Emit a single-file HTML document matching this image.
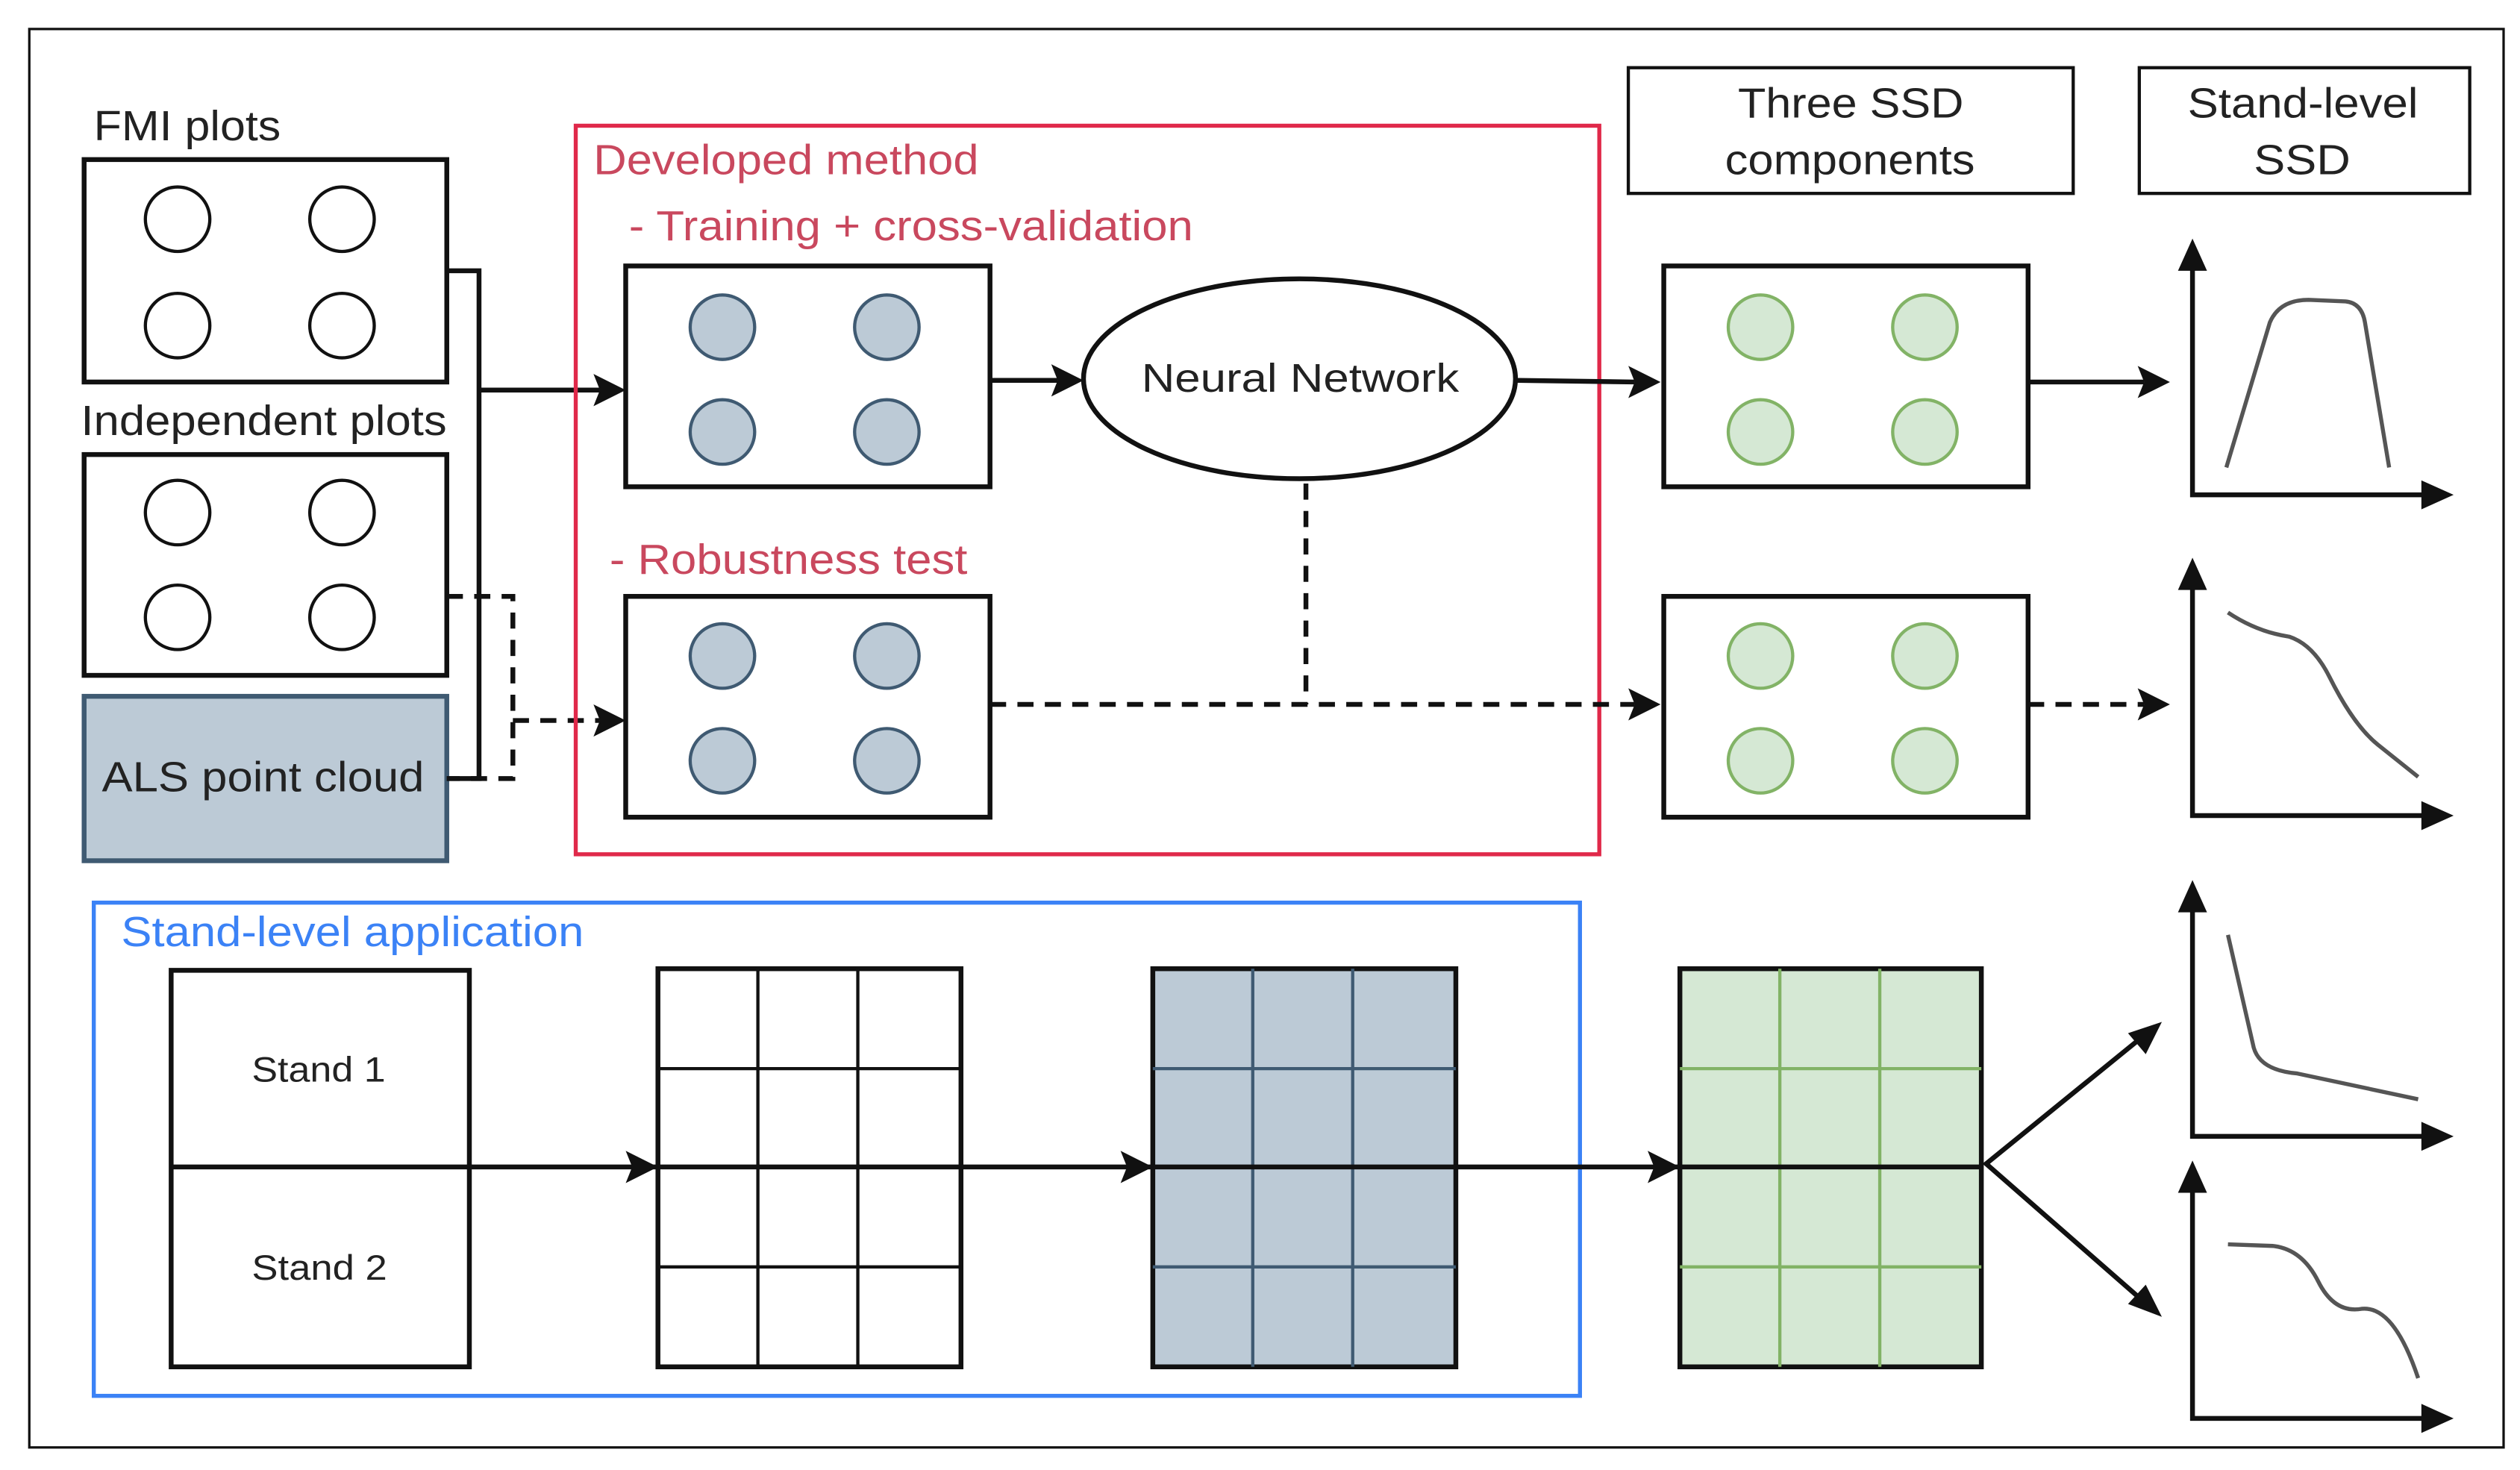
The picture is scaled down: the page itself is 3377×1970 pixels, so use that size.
<!DOCTYPE html>
<html><head><meta charset="utf-8"><style>
html,body{margin:0;padding:0;background:#fff;}
svg{display:block;}
text{font-family:"Liberation Sans",sans-serif;}
</style></head><body>
<svg width="3377" height="1970" viewBox="0 0 1563 912" xmlns="http://www.w3.org/2000/svg">
<rect x="0" y="0" width="1563" height="912" fill="#fff"/>
<rect x="18" y="18" width="1535" height="880" fill="none" stroke="#111" stroke-width="1.5"/>

<!-- left inputs -->
<text x="58" y="87" font-size="26" fill="#222" textLength="116" lengthAdjust="spacingAndGlyphs">FMI plots</text>
<rect x="52" y="99" width="225" height="138" fill="#fff" stroke="#111" stroke-width="3"/>
<g fill="none" stroke="#111" stroke-width="2">
<circle cx="110" cy="136" r="20"/><circle cx="212" cy="136" r="20"/>
<circle cx="110" cy="202" r="20"/><circle cx="212" cy="202" r="20"/>
</g>
<text x="50" y="270" font-size="26" fill="#222" textLength="227" lengthAdjust="spacingAndGlyphs">Independent plots</text>
<rect x="52" y="282" width="225" height="137" fill="#fff" stroke="#111" stroke-width="3"/>
<g fill="none" stroke="#111" stroke-width="2">
<circle cx="110" cy="318" r="20"/><circle cx="212" cy="318" r="20"/>
<circle cx="110" cy="383" r="20"/><circle cx="212" cy="383" r="20"/>
</g>
<rect x="52" y="432" width="225" height="102" fill="#bccad6" stroke="#3f5a72" stroke-width="3"/>
<text x="63" y="491" font-size="26" fill="#222" textLength="200" lengthAdjust="spacingAndGlyphs">ALS point cloud</text>

<!-- connectors -->
<polyline points="277,168 297,168 297,483 277,483" fill="none" stroke="#111" stroke-width="3"/>
<line x1="297" y1="242" x2="372" y2="242" stroke="#111" stroke-width="3"/>
<polygon points="388,242 368,232 372,242 368,252" fill="#111"/>
<polyline points="277,370 318,370 318,483 277,483" fill="none" stroke="#111" stroke-width="3" stroke-dasharray="10,7"/>
<line x1="318" y1="447" x2="372" y2="447" stroke="#111" stroke-width="3" stroke-dasharray="10,7"/>
<polygon points="388,447 368,437 372,447 368,457" fill="#111"/>

<!-- developed method -->
<rect x="357" y="78" width="635" height="452" fill="none" stroke="#e0294a" stroke-width="2.5"/>
<text x="368" y="108" font-size="26" fill="#c9485e" textLength="239" lengthAdjust="spacingAndGlyphs">Developed method</text>
<text x="390" y="149" font-size="26" fill="#c9485e" textLength="350" lengthAdjust="spacingAndGlyphs">- Training + cross-validation</text>
<text x="378" y="356" font-size="26" fill="#c9485e" textLength="222" lengthAdjust="spacingAndGlyphs">- Robustness test</text>

<rect x="388" y="165" width="226" height="137" fill="#fff" stroke="#111" stroke-width="3"/>
<rect x="388" y="370" width="226" height="137" fill="#fff" stroke="#111" stroke-width="3"/>
<g fill="#bccad6" stroke="#3f5a72" stroke-width="2">
<circle cx="448" cy="203" r="20"/><circle cx="550" cy="203" r="20"/>
<circle cx="448" cy="268" r="20"/><circle cx="550" cy="268" r="20"/>
<circle cx="448" cy="407" r="20"/><circle cx="550" cy="407" r="20"/>
<circle cx="448" cy="472" r="20"/><circle cx="550" cy="472" r="20"/>
</g>
<line x1="614" y1="236" x2="656" y2="236" stroke="#111" stroke-width="3"/>
<polygon points="672,236 652,226 656,236 652,246" fill="#111"/>
<ellipse cx="806" cy="235" rx="134" ry="62" fill="#fff" stroke="#111" stroke-width="3"/>
<text x="708" y="243" font-size="25" fill="#222" textLength="197" lengthAdjust="spacingAndGlyphs">Neural Network</text>
<line x1="941" y1="236" x2="1014" y2="237" stroke="#111" stroke-width="3"/>
<polygon points="1030,237 1010,227 1014,237 1010,247" fill="#111"/>
<polyline points="810,300 810,437" fill="none" stroke="#111" stroke-width="3" stroke-dasharray="10,7"/>
<line x1="614" y1="437" x2="1014" y2="437" stroke="#111" stroke-width="3" stroke-dasharray="10,7"/>
<polygon points="1030,437 1010,427 1014,437 1010,447" fill="#111"/>

<!-- SSD components -->
<rect x="1010" y="42" width="276" height="78" fill="#fff" stroke="#111" stroke-width="2"/>
<text x="1078" y="73" font-size="26" fill="#222" textLength="140" lengthAdjust="spacingAndGlyphs">Three SSD</text>
<text x="1070" y="108" font-size="26" fill="#222" textLength="155" lengthAdjust="spacingAndGlyphs">components</text>
<rect x="1327" y="42" width="205" height="78" fill="#fff" stroke="#111" stroke-width="2"/>
<text x="1357" y="73" font-size="26" fill="#222" textLength="143" lengthAdjust="spacingAndGlyphs">Stand-level</text>
<text x="1398" y="108" font-size="26" fill="#222" textLength="60" lengthAdjust="spacingAndGlyphs">SSD</text>

<rect x="1032" y="165" width="226" height="137" fill="#fff" stroke="#111" stroke-width="3"/>
<rect x="1032" y="370" width="226" height="137" fill="#fff" stroke="#111" stroke-width="3"/>
<g fill="#d5e8d4" stroke="#82b366" stroke-width="2">
<circle cx="1092" cy="203" r="20"/><circle cx="1194" cy="203" r="20"/>
<circle cx="1092" cy="268" r="20"/><circle cx="1194" cy="268" r="20"/>
<circle cx="1092" cy="407" r="20"/><circle cx="1194" cy="407" r="20"/>
<circle cx="1092" cy="472" r="20"/><circle cx="1194" cy="472" r="20"/>
</g>
<line x1="1258" y1="237" x2="1330" y2="237" stroke="#111" stroke-width="3"/>
<polygon points="1346,237 1326,227 1330,237 1326,247" fill="#111"/>
<line x1="1258" y1="437" x2="1330" y2="437" stroke="#111" stroke-width="3" stroke-dasharray="10,7"/>
<polygon points="1346,437 1326,427 1330,437 1326,447" fill="#111"/>

<!-- charts -->
<g stroke="#111" stroke-width="3" fill="none">
<polyline points="1360,165 1360,307 1506,307"/>
<polyline points="1360,363 1360,506 1506,506"/>
<polyline points="1360,563 1360,705 1506,705"/>
<polyline points="1360,737 1360,880 1506,880"/>
</g>
<g fill="#111">
<polygon points="1360,148 1351,168 1369,168"/><polygon points="1522,307 1502,298 1502,316"/>
<polygon points="1360,346 1351,366 1369,366"/><polygon points="1522,506 1502,497 1502,515"/>
<polygon points="1360,546 1351,566 1369,566"/><polygon points="1522,705 1502,696 1502,714"/>
<polygon points="1360,720 1351,740 1369,740"/><polygon points="1522,880 1502,871 1502,889"/>
</g>
<g stroke="#555" stroke-width="2.5" fill="none">
<path d="M1381,290 L1408,200 Q1414,186 1432,186 L1455,187 Q1465,188 1467,200 L1482,290"/>
<path d="M1382,380 Q1400,392 1420,395 Q1435,400 1445,420 Q1460,450 1475,462 Q1490,474 1500,482"/>
<path d="M1382,580 L1398,650 Q1402,664 1425,666 L1500,682"/>
<path d="M1382,772 L1410,773 Q1428,775 1438,795 Q1448,815 1465,812 Q1485,810 1500,855"/>
</g>

<!-- stand-level application -->
<rect x="58" y="560" width="922" height="306" fill="none" stroke="#3b82f6" stroke-width="2.5"/>
<text x="75" y="587" font-size="26" fill="#3b82f6" textLength="287" lengthAdjust="spacingAndGlyphs">Stand-level application</text>
<rect x="106" y="602" width="185" height="246" fill="#fff" stroke="#111" stroke-width="3"/>
<text x="156" y="671" font-size="22" fill="#222" textLength="83" lengthAdjust="spacingAndGlyphs">Stand 1</text>
<text x="156" y="794" font-size="22" fill="#222" textLength="84" lengthAdjust="spacingAndGlyphs">Stand 2</text>

<rect x="408" y="601" width="188" height="247" fill="#fff" stroke="#111" stroke-width="3"/>
<g stroke="#111" stroke-width="2"><line x1="470" y1="601" x2="470" y2="848"/><line x1="532" y1="601" x2="532" y2="848"/><line x1="408" y1="663" x2="596" y2="663"/><line x1="408" y1="786" x2="596" y2="786"/></g>

<rect x="715" y="601" width="188" height="247" fill="#bccad6" stroke="#111" stroke-width="3"/>
<g stroke="#3f5a72" stroke-width="2"><line x1="777" y1="601" x2="777" y2="848"/><line x1="839" y1="601" x2="839" y2="848"/><line x1="715" y1="663" x2="903" y2="663"/><line x1="715" y1="786" x2="903" y2="786"/></g>

<rect x="1042" y="601" width="187" height="247" fill="#d5e8d4" stroke="#111" stroke-width="3"/>
<g stroke="#82b366" stroke-width="2"><line x1="1104" y1="601" x2="1104" y2="848"/><line x1="1166" y1="601" x2="1166" y2="848"/><line x1="1042" y1="663" x2="1229" y2="663"/><line x1="1042" y1="786" x2="1229" y2="786"/></g>

<line x1="106" y1="724" x2="1229" y2="724" stroke="#111" stroke-width="3"/>
<polygon points="408,724 388,714 392,724 388,734" fill="#111"/>
<polygon points="715,724 695,714 699,724 695,734" fill="#111"/>
<polygon points="1042,724 1022,714 1026,724 1022,734" fill="#111"/>
<polyline points="1328,644 1232,722 1328,806" fill="none" stroke="#111" stroke-width="3"/>
<polygon points="1341,634 1320,641 1331,654" fill="#111"/>
<polygon points="1341,817 1320,809 1331,797" fill="#111"/>
</svg>
</body></html>
